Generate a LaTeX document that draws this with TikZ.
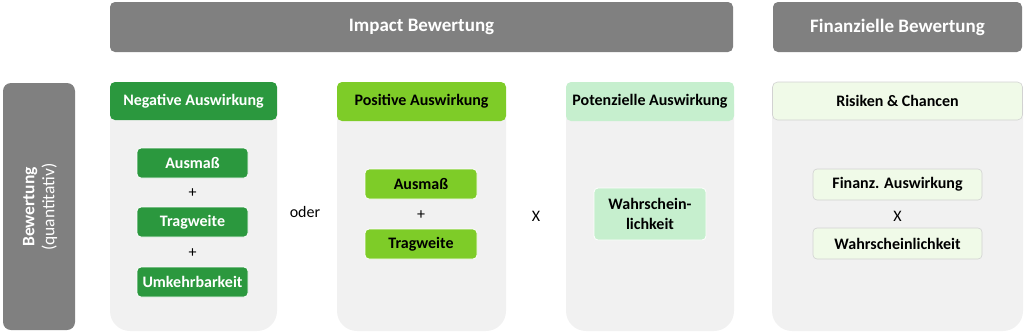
\documentclass[tikz,border=0pt]{standalone}
\usepackage{fontspec}
\setmainfont{Carlito}
\definecolor{dkgreen}{RGB}{43,152,62}
\definecolor{lime}{RGB}{126,204,40}
\definecolor{ltgreen}{RGB}{198,239,206}
\definecolor{paleg}{RGB}{240,250,232}
\definecolor{bargray}{RGB}{128,128,128}
\definecolor{bodygray}{RGB}{241,241,241}
\definecolor{edgegray}{RGB}{210,210,210}
\tikzset{
  bar/.style={fill=bargray, rounded corners=5pt, draw=none},
  hdrtxt/.style={font=\bfseries\fontsize{19}{21}\selectfont, text=white},
  colhdr/.style={rounded corners=5pt, font=\bfseries\fontsize{16}{18}\selectfont, inner sep=0pt},
  subbox/.style={rounded corners=4pt, font=\bfseries\fontsize{16}{18}\selectfont, inner sep=0pt, draw=white, line width=0.8pt, align=center},
  optxt/.style={font=\fontsize{16}{18}\selectfont, inner sep=0pt},
  body/.style={fill=bodygray, draw=none, rounded corners=20pt}
}
\begin{document}
\begin{tikzpicture}[x=1pt,y=-1pt]
\useasboundingbox (0,0) rectangle (1024,333);
% top bars
\fill[bar] (110,2) rectangle (733,52);
\node[hdrtxt] (impact) at (421.5,27) {Impact Bewertung};
\fill[bar] (773,2) rectangle (1022,52);
\node[hdrtxt] (finanz) at (897.5,27) {Finanzielle Bewertung};
% left bar
\fill[bar, rounded corners=8pt] (3,83) rectangle (75,330);
\node[rotate=90, text=white, align=center, inner sep=0pt, font=\fontsize{17.5}{20}\selectfont] (bew) at (40,207) {\textbf{Bewertung}\\(quantitativ)};
% bodies
\foreach \a/\b in {110/277, 337/506, 566/734, 772/1023}{
  \fill[body] (\a,84) rectangle (\b,331);
}
% column headers
\node[colhdr, fill=dkgreen, text=white, minimum width=167pt, minimum height=38pt] (neg) at (193.5,101) {Negative Auswirkung};
\node[colhdr, fill=lime, text=black, minimum width=169pt, minimum height=39pt] (pos) at (421.5,101.5) {Positive Auswirkung};
\node[colhdr, fill=ltgreen, text=black, minimum width=168pt, minimum height=39pt] (pot) at (650,101.5) {Potenzielle Auswirkung};
\node[colhdr, fill=paleg, draw=edgegray, line width=0.6pt, text=black, minimum width=250pt, minimum height=38pt] (ric) at (897.5,101) {Risiken \& Chancen};
% column 1
\node[subbox, fill=dkgreen, text=white, minimum width=111pt, minimum height=30pt] (n1) at (192.5,163) {Ausmaß};
\node[optxt] (p1) at (192.5,193) {+};
\node[subbox, fill=dkgreen, text=white, minimum width=111pt, minimum height=30pt] (n2) at (192.5,222) {Tragweite};
\node[optxt] (p2) at (192.5,253) {+};
\node[subbox, fill=dkgreen, text=white, minimum width=111pt, minimum height=30pt] (n3) at (192.5,282) {Umkehrbarkeit};
\node[optxt] (oder) at (305,212) {oder};
% column 2
\node[subbox, fill=lime, text=black, minimum width=112pt, minimum height=30pt] (q1) at (421,184) {Ausmaß};
\node[optxt] (p3) at (421,215) {+};
\node[subbox, fill=lime, text=black, minimum width=112pt, minimum height=30pt] (q2) at (421,244) {Tragweite};
\node[optxt] (x1) at (536,216) {X};
% column 3
\node[subbox, fill=ltgreen, text=black, minimum width=112pt, minimum height=52pt, font=\bfseries\fontsize{16}{20}\selectfont] (w1) at (650,214) {Wahrschein-\\lichkeit};
% column 4
\node[subbox, fill=paleg, draw=edgegray, line width=0.6pt, text=black, minimum width=169pt, minimum height=31pt] (f1) at (897.5,184.5) {Finanz. Auswirkung};
\node[optxt] (x2) at (897.5,216) {X};
\node[subbox, fill=paleg, draw=edgegray, line width=0.6pt, text=black, minimum width=169pt, minimum height=31pt] (f2) at (897.5,243.5) {Wahrscheinlichkeit};
\end{tikzpicture}
\end{document}
